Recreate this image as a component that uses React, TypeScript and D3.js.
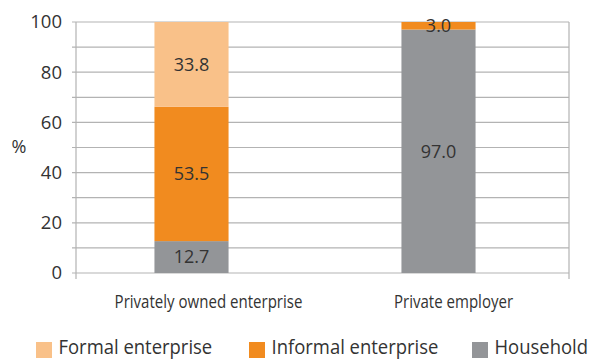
import React from "react";
import * as d3 from "d3";

const categories = ["Privately owned enterprise", "Private employer"];
const seriesNames = ["Household", "Informal enterprise", "Formal enterprise"];
const household = [12.7, 97.0];
const informal = [53.5, 3.0];
const formal = [33.8, 0];
const yTicks = [0, 20, 40, 60, 80, 100];
const gridValues = [0, 10, 20, 30, 40, 50, 60, 70, 80, 90, 100];
const colors = ["#939598", "#F18B1F", "#F9C189"];
const legendOrder = ["Formal enterprise", "Informal enterprise", "Household"];

const W = 592;
const H = 360;
const FONT = "'Open Sans', 'Noto Sans', sans-serif";

function SqText({ x, y, anchor, size, sq, children }: any) {
  return (
    <g transform={`translate(${x},${y}) scale(${sq},1)`}>
      <text x={0} y={0} textAnchor={anchor} fontSize={size} fill="#333">
        {children}
      </text>
    </g>
  );
}

export default function App() {
  const y = d3.scaleLinear().domain([0, 100]).range([273, 22]);
  const x = d3.scaleBand().domain(categories).range([68, 562]).paddingInner(0.7).paddingOuter(0.35);
  const labelX = d3.scaleBand().domain(categories).range([86, 576]);
  const plotLeft = 76;
  const plotRight = 569;

  const rows = categories.map((c, i) => ({ c, Household: household[i], "Informal enterprise": informal[i], "Formal enterprise": formal[i] }));
  const stack = d3.stack<any>().keys(seriesNames)(rows);

  const legendX = [36, 249, 472];

  return (
    <svg width={W} height={H} style={{ position: "absolute", left: 0, top: 0, fontFamily: FONT }}>
      <rect x={0} y={0} width={W} height={H} fill="#fff" />
      {gridValues.map((v) => (
        <line key={v} x1={72} x2={plotRight} y1={y(v)} y2={y(v)} stroke="#B3B3B3" strokeWidth={1.2} />
      ))}
      <line x1={plotLeft} x2={plotLeft} y1={y(100)} y2={279} stroke="#B3B3B3" strokeWidth={1.2} />
      <line x1={plotRight} x2={plotRight} y1={y(100)} y2={279} stroke="#B3B3B3" strokeWidth={1.2} />
      {yTicks.map((v) => (
        <text key={v} x={62} y={y(v)} dy="0.35em" textAnchor="end" fontSize={18.5} fill="#333">
          {v}
        </text>
      ))}
      <text x={19} y={147} dy="0.35em" textAnchor="middle" fontSize={18} fill="#333">%</text>
      {stack.map((s, si) =>
        s.map((d, i) => {
          const v = d[1] - d[0];
          if (v <= 0) return null;
          const bx = x(categories[i])!;
          return (
            <g key={`${si}-${i}`}>
              <rect x={bx} y={y(d[1])} width={x.bandwidth()} height={y(d[0]) - y(d[1])} fill={colors[si]} />
              <text x={bx + x.bandwidth() / 2} y={y((d[0] + d[1]) / 2)} dy="0.35em" textAnchor="middle" fontSize={18} fill="#333">
                {v.toFixed(1)}
              </text>
            </g>
          );
        })
      )}
      {categories.map((c) => (
        <SqText key={c} x={labelX(c)! + labelX.bandwidth() / 2} y={307.5} anchor="middle" size={17.5} sq={0.86}>
          {c}
        </SqText>
      ))}
      {legendOrder.map((name, i) => (
        <g key={name} transform={`translate(${legendX[i]},342)`}>
          <rect x={0} y={0} width={16} height={16} fill={colors[seriesNames.indexOf(name)]} />
          <SqText x={22.5} y={12} anchor="start" size={20.5} sq={0.9}>{name}</SqText>
        </g>
      ))}
    </svg>
  );
}
